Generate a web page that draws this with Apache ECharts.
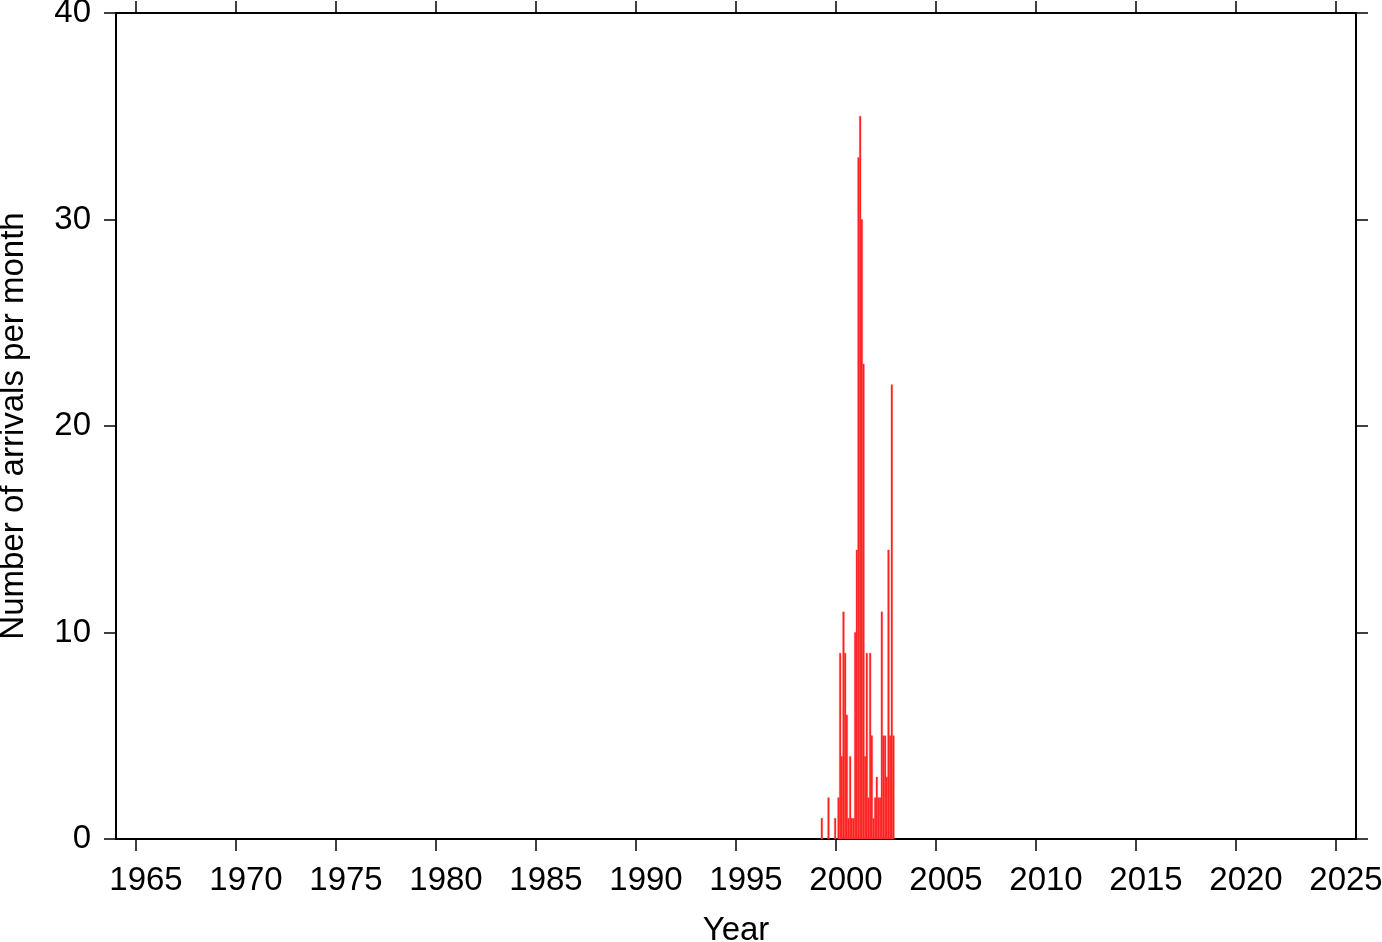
<!DOCTYPE html>
<html>
<head>
<meta charset="utf-8">
<script src="https://cdn.jsdelivr.net/npm/echarts@6/dist/echarts.min.js"></script>
<style>
html,body{margin:0;padding:0;background:#fff;}
#chart{width:1382px;height:942px;}
</style>
</head>
<body>
<div id="chart"></div>
<script>
// Monthly arrival counts (year-month, count)
var months = ["1999-04","1999-05","1999-06","1999-07","1999-08","1999-09","1999-10","1999-11","1999-12",
  "2000-01","2000-02","2000-03","2000-04","2000-05","2000-06","2000-07","2000-08","2000-09","2000-10","2000-11","2000-12",
  "2001-01","2001-02","2001-03","2001-04","2001-05","2001-06","2001-07","2001-08","2001-09","2001-10","2001-11","2001-12",
  "2002-01","2002-02","2002-03","2002-04","2002-05","2002-06","2002-07","2002-08","2002-09","2002-10","2002-11"];
var counts = [1,0,0,0,2,0,0,0,1,
  0,2,9,4,11,9,6,1,4,1,1,10,
  14,33,35,30,23,4,9,2,9,5,1,2,
  3,2,2,11,5,5,3,14,5,22,5];
var yearTicks = [1965,1970,1975,1980,1985,1990,1995,2000,2005,2010,2015,2020,2025];
var countTicks = [0,10,20,30,40];

var data = [];
for (var i = 0; i < months.length; i++) {
  if (counts[i] <= 0) continue;
  var p = months[i].split("-");
  var start = +p[0] + (+p[1] - 1) / 12;
  data.push([start, start + 1 / 12, counts[i]]);
}

var FONT = "Liberation Sans, Arial, Helvetica, sans-serif";
var FS = 33;
var chart = echarts.init(document.getElementById('chart'), null, {renderer: 'canvas'});
var axisLine = {show: true, onZero: false, lineStyle: {color: '#000', width: 2}};
var tick = {show: true, inside: false, length: 12, lineStyle: {color: '#000', width: 1.5}};

chart.setOption({
  animation: false,
  backgroundColor: '#fff',
  grid: {left: 116, right: 26, top: 13, bottom: 103, containLabel: false, outerBoundsMode: 'none'},
  xAxis: [{
    type: 'value', position: 'bottom', min: 1964, max: 2026,
    axisLine: axisLine,
    axisTick: Object.assign({}, tick, {customValues: yearTicks}),
    axisLabel: {show: true, customValues: yearTicks, margin: 25, color: '#000', fontSize: FS, fontFamily: FONT,
      padding: [0, 0, 0, 20],
      formatter: function (v) { return String(v); }},
    splitLine: {show: false},
    name: 'Year', nameLocation: 'middle', nameGap: 75,
    nameTextStyle: {color: '#000', fontSize: FS, fontFamily: FONT}
  }, {
    type: 'value', position: 'top', min: 1964, max: 2026,
    axisLine: axisLine,
    axisTick: Object.assign({}, tick, {customValues: yearTicks}),
    axisLabel: {show: false},
    splitLine: {show: false}
  }],
  yAxis: [{
    type: 'value', position: 'left', min: 0, max: 40, interval: 10,
    axisLine: axisLine,
    axisTick: Object.assign({}, tick, {customValues: countTicks}),
    axisLabel: {show: true, customValues: countTicks, margin: 25, color: '#000', fontSize: FS, fontFamily: FONT},
    splitLine: {show: false},
    name: 'Number of arrivals per month', nameLocation: 'middle', nameGap: 86,
    nameTextStyle: {color: '#000', fontSize: FS, fontFamily: FONT}
  }, {
    type: 'value', position: 'right', min: 0, max: 40, interval: 10,
    axisLine: axisLine,
    axisTick: tick,
    axisLabel: {show: false},
    splitLine: {show: false}
  }],
  series: [{
    type: 'custom',
    xAxisIndex: 0, yAxisIndex: 0,
    data: data,
    encode: {x: [0, 1], y: 2},
    renderItem: function (params, api) {
      var p0 = api.coord([api.value(0), 0]);
      var p1 = api.coord([api.value(1), api.value(2)]);
      return {
        type: 'rect',
        shape: {x: p0[0], y: p1[1], width: p1[0] - p0[0], height: p0[1] - p1[1]},
        style: {fill: '#ff1c1c', stroke: '#ff4a4a', lineWidth: 0.4}
      };
    }
  }]
});
</script>
</body>
</html>
